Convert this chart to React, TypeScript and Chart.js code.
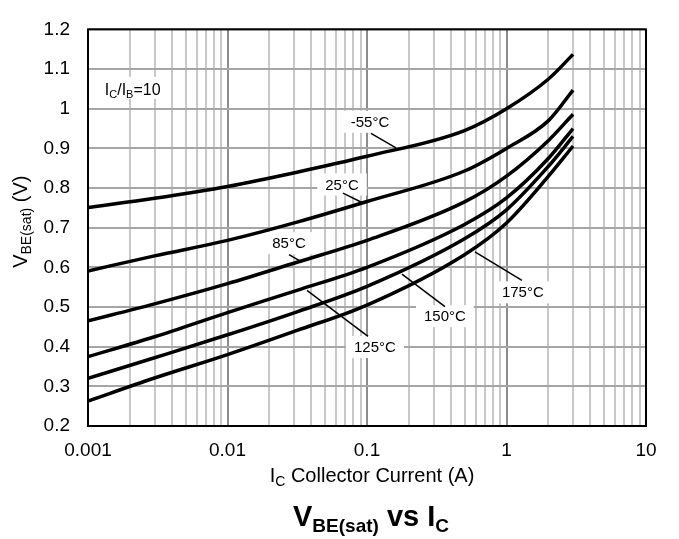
import { useEffect, useRef } from 'react';
import { Chart, registerables } from 'chart.js';

Chart.register(...registerables);

// ---- data ----
const currents = [0.001, 0.003, 0.01, 0.0315, 0.1, 0.5, 1, 2, 3];
const vbeM55 = [0.751, 0.774, 0.804, 0.84, 0.88, 0.945, 1.0, 1.075, 1.137];
const vbe25 = [0.591, 0.629, 0.668, 0.714, 0.766, 0.843, 0.9, 0.97, 1.047];
const vbe85 = [0.465, 0.508, 0.559, 0.613, 0.668, 0.765, 0.83, 0.92, 0.986];
const vbe125 = [0.375, 0.425, 0.486, 0.542, 0.6, 0.708, 0.775, 0.875, 0.95];
const vbe150 = [0.32, 0.372, 0.43, 0.488, 0.552, 0.672, 0.745, 0.855, 0.93];
const vbe175 = [0.263, 0.321, 0.38, 0.441, 0.505, 0.632, 0.712, 0.83, 0.906];
const seriesNames = ['-55°C', '25°C', '85°C', '125°C', '150°C', '175°C'];
const seriesValues = [vbeM55, vbe25, vbe85, vbe125, vbe150, vbe175];

const yTicks = [0.2, 0.3, 0.4, 0.5, 0.6, 0.7, 0.8, 0.9, 1.0, 1.1, 1.2];
const yTickLabels = ['0.2', '0.3', '0.4', '0.5', '0.6', '0.7', '0.8', '0.9', '1', '1.1', '1.2'];
const xDecades = [0.001, 0.01, 0.1, 1, 10];
const xTickLabels = ['0.001', '0.01', '0.1', '1', '10'];
const xMinorMultipliers = [1, 2, 3, 4, 5, 6, 7, 8, 9];

// curve labels: label centre and leader line (data units)
const labelCentreI = [0.105, 0.0662, 0.0276, 0.114, 0.362, 1.31];
const labelCentreV = [0.967, 0.809, 0.661, 0.399, 0.477, 0.537];
const leaderFromI = [0.1068, 0.0673, 0.0276, 0.0371, 0.178, 0.594];
const leaderFromV = [0.938, 0.787, 0.632, 0.542, 0.583, 0.639];
const leaderToI = [0.1614, 0.0951, 0.0342, 0.1017, 0.362, 1.29];
const leaderToV = [0.9015, 0.761, 0.613, 0.426, 0.501, 0.567];
const ratioLabelI = 0.00132;
const ratioLabelV = 1.05;

const FONT = '"Liberation Sans", Arial, Helvetica, sans-serif';

const xGridValues: number[] = [];
xDecades.slice(0, -1).forEach((d) => xMinorMultipliers.forEach((m) => xGridValues.push(+(d * m).toPrecision(3))));
xGridValues.push(xDecades[xDecades.length - 1]);

const isDecade = (v: number) => Math.abs(Math.log10(v) - Math.round(Math.log10(v))) < 1e-6;

type Part = { t: string; size: number; bold?: boolean; dy?: number };

function drawRich(ctx: CanvasRenderingContext2D, parts: Part[], x: number, y: number, align: 'left' | 'center') {
  let total = 0;
  const widths = parts.map((p) => {
    ctx.font = `${p.bold ? 'bold ' : ''}${p.size}px ${FONT}`;
    const w = ctx.measureText(p.t).width;
    total += w;
    return w;
  });
  let cx = align === 'center' ? x - total / 2 : x;
  ctx.textAlign = 'left';
  ctx.textBaseline = 'alphabetic';
  parts.forEach((p, i) => {
    ctx.font = `${p.bold ? 'bold ' : ''}${p.size}px ${FONT}`;
    ctx.fillText(p.t, cx, y + (p.dy || 0));
    cx += widths[i];
  });
  return total;
}

const decorPlugin = {
  id: 'decor',
  beforeDatasetsDraw(chart: any) {
    const { ctx, chartArea: a, scales } = chart;
    const xs = scales.x;
    const ys = scales.y;
    ctx.save();
    for (let i = 0; i < seriesNames.length; i++) {
      const cx = xs.getPixelForValue(labelCentreI[i]);
      const cy = ys.getPixelForValue(labelCentreV[i]);
      ctx.font = `15px ${FONT}`;
      const w = ctx.measureText(seriesNames[i]).width;
      ctx.fillStyle = '#fff';
      ctx.fillRect(cx - w / 2 - 8, cy - 11, w + 16, 22);
      ctx.fillStyle = '#000';
      ctx.textAlign = 'center';
      ctx.textBaseline = 'middle';
      ctx.fillText(seriesNames[i], cx, cy + 1);
      ctx.strokeStyle = '#000';
      ctx.lineWidth = 1.5;
      ctx.beginPath();
      ctx.moveTo(xs.getPixelForValue(leaderFromI[i]), ys.getPixelForValue(leaderFromV[i]));
      ctx.lineTo(xs.getPixelForValue(leaderToI[i]), ys.getPixelForValue(leaderToV[i]));
      ctx.stroke();
    }
    const rx = xs.getPixelForValue(ratioLabelI);
    const ry = ys.getPixelForValue(ratioLabelV);
    ctx.fillStyle = '#fff';
    ctx.fillRect(rx - 4, ry - 12, 66, 22);
    ctx.fillStyle = '#000';
    drawRich(
      ctx,
      [
        { t: 'I', size: 16 },
        { t: 'C', size: 11, dy: 3 },
        { t: '/I', size: 16 },
        { t: 'B', size: 11, dy: 3 },
        { t: '=10', size: 16 },
      ],
      rx,
      ry + 6,
      'left'
    );
    ctx.strokeStyle = '#000';
    ctx.lineWidth = 2;
    ctx.strokeRect(a.left, a.top, a.right - a.left, a.bottom - a.top);
    ctx.restore();
  },
  afterDraw(chart: any) {
    const { ctx, chartArea: a } = chart;
    ctx.save();
    ctx.fillStyle = '#000';
    drawRich(
      ctx,
      [
        { t: 'I', size: 20 },
        { t: 'C', size: 14, dy: 4 },
        { t: ' Collector Current (A)', size: 20 },
      ],
      (a.left + a.right) / 2 + 5,
      482,
      'center'
    );
    ctx.save();
    ctx.translate(27, (a.top + a.bottom) / 2 - 6);
    ctx.rotate(-Math.PI / 2);
    drawRich(
      ctx,
      [
        { t: 'V', size: 20 },
        { t: 'BE(sat)', size: 14, dy: 4 },
        { t: ' (V)', size: 20 },
      ],
      0,
      0,
      'center'
    );
    ctx.restore();
    drawRich(
      ctx,
      [
        { t: 'V', size: 29, bold: true },
        { t: 'BE(sat)', size: 19, bold: true, dy: 6 },
        { t: ' vs I', size: 29, bold: true },
        { t: 'C', size: 19, bold: true, dy: 6 },
      ],
      (a.left + a.right) / 2 + 4,
      526,
      'center'
    );
    ctx.restore();
  },
};

export default function App() {
  const canvasRef = useRef<HTMLCanvasElement | null>(null);

  useEffect(() => {
    if (!canvasRef.current) return;
    const chart = new Chart(canvasRef.current, {
      type: 'line',
      data: {
        datasets: seriesValues.map((vals, si) => ({
          label: seriesNames[si],
          data: currents.map((c, i) => ({ x: c, y: vals[i] })),
          borderColor: '#000',
          borderWidth: 3.5,
          pointRadius: 0,
          fill: false,
          cubicInterpolationMode: 'monotone' as const,
        })),
      },
      options: {
        animation: false,
        responsive: false,
        maintainAspectRatio: false,
        layout: { padding: { left: 0, top: 14, right: 33, bottom: 0 } },
        plugins: {
          legend: { display: false },
          tooltip: { enabled: false },
          title: { display: false },
        },
        scales: {
          x: {
            type: 'logarithmic',
            min: 0.001,
            max: 10,
            afterBuildTicks: (scale: any) => {
              scale.ticks = xGridValues.map((v) => ({ value: v, major: isDecade(v) }));
            },
            afterFit: (scale: any) => {
              scale.height = 113;
            },
            border: { display: false },
            grid: {
              drawTicks: false,
              lineWidth: 2,
              color: (c: any) => (c.tick && isDecade(c.tick.value) ? '#8c8c8c' : '#c8c8c8'),
            },
            ticks: {
              autoSkip: false,
              maxRotation: 0,
              padding: 13,
              color: '#000',
              font: { family: FONT, size: 19 },
              callback: (value: any) => {
                const idx = xDecades.findIndex((d) => Math.abs(d - Number(value)) < d * 1e-6);
                return idx >= 0 ? xTickLabels[idx] : '';
              },
            },
          },
          y: {
            type: 'linear',
            min: 0.2,
            max: 1.2,
            afterBuildTicks: (scale: any) => {
              scale.ticks = yTicks.map((v) => ({ value: v }));
            },
            afterFit: (scale: any) => {
              scale.width = 88;
            },
            border: { display: false },
            grid: { drawTicks: false, lineWidth: 2, color: '#a6a6a6' },
            ticks: {
              padding: 18,
              color: '#000',
              font: { family: FONT, size: 19 },
              callback: (value: any) => {
                const idx = yTicks.findIndex((t) => Math.abs(t - Number(value)) < 1e-6);
                return idx >= 0 ? yTickLabels[idx] : '';
              },
            },
          },
        },
      } as any,
      plugins: [decorPlugin],
    });
    return () => chart.destroy();
  }, []);

  return (
    <div style={{ position: 'absolute', left: 0, top: 0, width: 679, height: 539, background: '#fff' }}>
      <canvas ref={canvasRef} width={679} height={539} style={{ display: 'block' }} />
    </div>
  );
}
